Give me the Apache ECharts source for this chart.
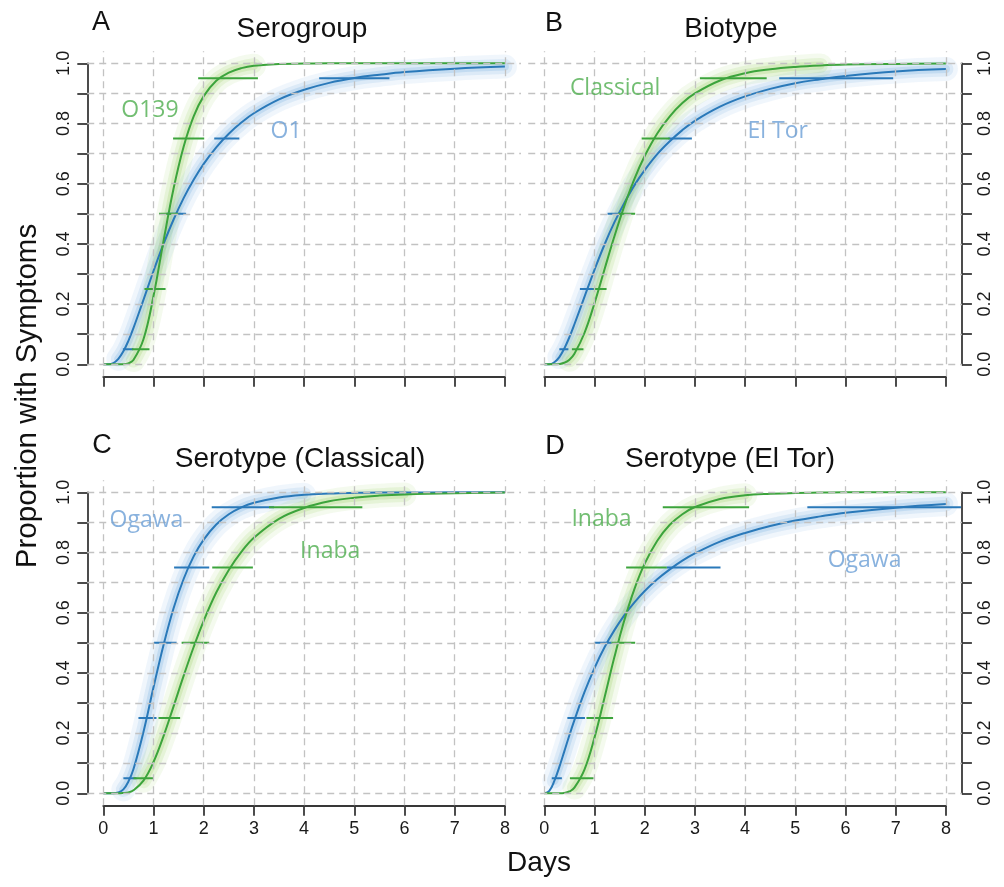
<!DOCTYPE html>
<html>
<head>
<meta charset="utf-8">
<script src="https://cdn.jsdelivr.net/npm/echarts@6/dist/echarts.min.js"></script>
<style>
html, body { margin: 0; padding: 0; background: #fff; }
#main { width: 1004px; height: 887px; }
</style>
</head>
<body>
<div id="main"></div>
<script>
// days sampled along each curve
var days = [0, 0.1, 0.2, 0.3, 0.4, 0.5, 0.6, 0.8, 1.0, 1.2, 1.4, 1.6, 1.8, 2.0, 2.25, 2.5, 2.75, 3.0, 3.5, 4.0, 4.5, 5.0, 5.5, 6.0, 7.0, 8.0];
var dayTicks = [0, 1, 2, 3, 4, 5, 6, 7, 8];
var propTicks = [0, 0.1, 0.2, 0.3, 0.4, 0.5, 0.6, 0.7, 0.8, 0.9, 1.0];
var quantiles = [0.05, 0.25, 0.5, 0.75, 0.95];

// A: serogroup
var serogroupO1   = [0, 0.000, 0.004, 0.018, 0.043, 0.078, 0.120, 0.214, 0.310, 0.400, 0.481, 0.552, 0.613, 0.666, 0.721, 0.766, 0.803, 0.834, 0.880, 0.912, 0.935, 0.951, 0.962, 0.971, 0.982, 0.989];
var serogroupO139 = [0, 0, 0, 0, 0.000, 0.003, 0.014, 0.083, 0.227, 0.410, 0.584, 0.723, 0.824, 0.891, 0.942, 0.969, 0.984, 0.992, 0.998, 0.999, 1, 1, 1, 1, 1, 1];
var serogroupO1Ci   = [[0.39, 0.60], [0.84, 1.00], [1.26, 1.65], [2.21, 2.71], [4.30, 5.70]];
var serogroupO139Ci = [[0.57, 0.92], [0.82, 1.24], [1.11, 1.49], [1.39, 2.01], [1.89, 3.08]];

// B: biotype
var biotypeElTor     = [0, 0.000, 0.007, 0.024, 0.053, 0.090, 0.133, 0.224, 0.314, 0.398, 0.473, 0.538, 0.596, 0.645, 0.698, 0.741, 0.778, 0.809, 0.856, 0.890, 0.915, 0.934, 0.947, 0.958, 0.973, 0.981];
var biotypeClassical = [0, 0, 0.000, 0.001, 0.005, 0.015, 0.035, 0.104, 0.203, 0.316, 0.427, 0.529, 0.618, 0.692, 0.767, 0.824, 0.868, 0.900, 0.943, 0.967, 0.980, 0.988, 0.993, 0.996, 0.998, 0.999];
var biotypeElTorCi     = [[0.30, 0.48], [0.71, 1.04], [1.26, 1.54], [2.47, 2.94], [4.68, 6.95]];
var biotypeClassicalCi = [[0.55, 0.78], [0.98, 1.24], [1.47, 1.81], [1.94, 2.50], [3.10, 4.43]];

// C: serotype within Classical
var classicalOgawa = [0, 0, 0.000, 0.003, 0.013, 0.039, 0.080, 0.204, 0.352, 0.493, 0.615, 0.712, 0.787, 0.843, 0.893, 0.927, 0.950, 0.965, 0.983, 0.992, 0.996, 0.998, 0.999, 0.999, 1, 1];
var classicalInaba = [0, 0, 0, 0.000, 0.001, 0.003, 0.010, 0.042, 0.104, 0.190, 0.289, 0.390, 0.486, 0.573, 0.667, 0.742, 0.802, 0.849, 0.912, 0.948, 0.970, 0.982, 0.989, 0.993, 0.997, 0.999];
var classicalOgawaCi = [[0.40, 0.66], [0.70, 1.06], [1.01, 1.46], [1.41, 2.11], [2.16, 3.40]];
var classicalInabaCi = [[0.60, 1.00], [1.10, 1.53], [1.56, 2.11], [2.17, 2.98], [3.30, 5.16]];

// D: serotype within El Tor
var elTorOgawa = [0, 0.008, 0.041, 0.088, 0.140, 0.193, 0.243, 0.336, 0.416, 0.485, 0.543, 0.593, 0.635, 0.672, 0.711, 0.744, 0.773, 0.797, 0.836, 0.865, 0.888, 0.906, 0.920, 0.932, 0.949, 0.961];
var elTorInaba = [0, 0, 0, 0.000, 0.001, 0.006, 0.019, 0.079, 0.185, 0.318, 0.455, 0.578, 0.681, 0.763, 0.839, 0.892, 0.927, 0.951, 0.978, 0.990, 0.995, 0.998, 0.999, 1, 1, 1];
var elTorOgawaCi = [[0.15, 0.35], [0.46, 0.81], [1.00, 1.34], [2.44, 3.51], [5.24, 8.30]];
var elTorInabaCi = [[0.51, 0.98], [0.84, 1.37], [1.34, 1.81], [1.63, 2.44], [2.36, 4.08]];

var BLUE = { line: '#2a79b9', glow: '105,168,222', text: '#6b9fd6' };
var GREEN = { line: '#3ca43c', glow: '150,205,90', text: '#4fae4f' };

var panels = [
    { letter: 'A', title: 'Serogroup', x0: 103.3, y1: 63.3, side: 'left', xLabels: false,
      groups: [
        { name: 'O1', c: BLUE, cdf: serogroupO1, ci: serogroupO1Ci, at: [3.64, 0.772] },
        { name: 'O139', c: GREEN, cdf: serogroupO139, ci: serogroupO139Ci, at: [0.93, 0.842] }
      ] },
    { letter: 'B', title: 'Biotype', x0: 544.3, y1: 63.3, side: 'right', xLabels: false,
      groups: [
        { name: 'El Tor', c: BLUE, cdf: biotypeElTor, ci: biotypeElTorCi, at: [4.65, 0.772] },
        { name: 'Classical', c: GREEN, cdf: biotypeClassical, ci: biotypeClassicalCi, at: [1.41, 0.918] }
      ] },
    { letter: 'C', title: 'Serotype (Classical)', x0: 103.3, y1: 492.3, side: 'left', xLabels: true,
      groups: [
        { name: 'Ogawa', c: BLUE, cdf: classicalOgawa, ci: classicalOgawaCi, at: [0.86, 0.905] },
        { name: 'Inaba', c: GREEN, cdf: classicalInaba, ci: classicalInabaCi, at: [4.52, 0.805] }
      ] },
    { letter: 'D', title: 'Serotype (El Tor)', x0: 544.3, y1: 492.3, side: 'right', xLabels: true,
      groups: [
        { name: 'Ogawa', c: BLUE, cdf: elTorOgawa, ci: elTorOgawaCi, at: [6.38, 0.772] },
        { name: 'Inaba', c: GREEN, cdf: elTorInaba, ci: elTorInabaCi, at: [1.14, 0.91] }
      ] }
];

var PX_DAY = 50.2, PX_UNIT = 301;
var grids = [], xAxes = [], yAxes = [], series = [], graphics = [];
var axisCol = '#383838';
var tickFont = { fontFamily: 'Liberation Sans', fontSize: 18, color: '#1a1a1a' };

function pts(ys) { return days.map(function (d, i) { return [d, ys[i]]; }); }

panels.forEach(function (p, k) {
    var go = 2 * k, gi = 2 * k + 1;
    // plot region (R style, 4% padding)
    grids.push({ left: p.x0 - 0.32 * PX_DAY, top: p.y1 - 0.04 * PX_UNIT, width: 8.64 * PX_DAY, height: 1.08 * PX_UNIT, outerBoundsMode: 'none' });
    // data region, carries the visible axes
    grids.push({ left: p.x0, top: p.y1, width: 8 * PX_DAY, height: PX_UNIT, outerBoundsMode: 'none' });

    xAxes.push({ type: 'value', gridIndex: go, min: -0.32, max: 8.32, show: false });
    yAxes.push({ type: 'value', gridIndex: go, min: -0.04, max: 1.04, show: false });

    xAxes.push({
        type: 'value', gridIndex: gi, min: 0, max: 8, interval: 1, position: 'bottom', offset: 12.5,
        axisLine: { show: true, onZero: false, lineStyle: { color: axisCol, width: 1.8 } },
        axisTick: { show: true, length: 10, lineStyle: { color: axisCol, width: 1.8 } },
        axisLabel: Object.assign({ show: p.xLabels, margin: 14 }, tickFont),
        splitLine: { show: false }
    });
    yAxes.push({
        type: 'value', gridIndex: gi, min: 0, max: 1, interval: 0.1, position: p.side, offset: 16,
        axisLine: { show: true, onZero: false, lineStyle: { color: axisCol, width: 1.8 } },
        axisTick: { show: true, length: 10, lineStyle: { color: axisCol, width: 1.8 } },
        axisLabel: Object.assign({
            rotate: 90, margin: 14,
            formatter: function (v) { var t = Math.round(v * 10); return t % 2 === 0 ? (t / 10).toFixed(1) : ''; }
        }, tickFont),
        splitLine: { show: false }
    });

    var base = { xAxisIndex: go, yAxisIndex: go, silent: true, animation: false };

    // dashed grid
    series.push(Object.assign({}, base, {
        type: 'line', z: 1, data: [], showSymbol: false,
        markLine: {
            silent: true, symbol: ['none', 'none'], label: { show: false }, animation: false,
            lineStyle: { color: '#c2c2c2', type: [7, 5], width: 1.3 },
            data: dayTicks.map(function (d) { return { xAxis: d }; })
                .concat(propTicks.map(function (v) { return { yAxis: v }; }))
        }
    }));

    // soft uncertainty glow, only where the curve is rising
    p.groups.forEach(function (g) {
        var rising = pts(g.cdf).filter(function (q) { return q[1] > 0.01 && q[1] < 0.995; });
        [[24, 0.10], [15, 0.15], [8, 0.22]].forEach(function (w) {
            series.push(Object.assign({}, base, {
                type: 'line', z: 2, data: rising, smooth: 0.4, showSymbol: false,
                lineStyle: { color: 'rgba(' + g.c.glow + ',' + w[1] + ')', width: w[0], cap: 'round', join: 'round' }
            }));
        });
    });
    // point estimate curves
    p.groups.forEach(function (g) {
        series.push(Object.assign({}, base, {
            type: 'line', z: 3, name: g.name, data: pts(g.cdf), smooth: 0.4, showSymbol: false,
            lineStyle: { color: g.c.line, width: 2 }
        }));
    });
    // quantile intervals
    p.groups.forEach(function (g) {
        g.ci.forEach(function (r, i) {
            series.push(Object.assign({}, base, {
                type: 'line', z: 4, data: [[r[0], quantiles[i]], [r[1], quantiles[i]]], showSymbol: false,
                lineStyle: { color: g.c.line, width: 2 }
            }));
        });
    });
    // group names
    p.groups.forEach(function (g) {
        series.push(Object.assign({}, base, {
            type: 'scatter', z: 5, data: [g.at], symbolSize: 1, itemStyle: { color: 'rgba(0,0,0,0)' },
            label: { show: true, position: 'inside', formatter: g.name, color: g.c.text,
                     fontFamily: 'Open Sans', fontSize: 23 }
        }));
    });
});

function txt(x, y, s, size, rot) {
    return { type: 'text', x: x, y: y, rotation: rot || 0, silent: true,
        style: { text: s, fill: '#111', font: size + 'px "Liberation Sans", Arial, sans-serif',
                 textAlign: 'center', textVerticalAlign: 'middle', align: 'center', verticalAlign: 'middle' } };
}
graphics.push(txt(101, 23, 'A', 27), txt(302, 29, 'Serogroup', 28));
graphics.push(txt(554, 24, 'B', 27), txt(731, 29, 'Biotype', 28));
graphics.push(txt(102, 446, 'C', 27), txt(300, 459, 'Serotype (Classical)', 28));
graphics.push(txt(555, 447, 'D', 27), txt(730, 459, 'Serotype (El Tor)', 28));
graphics.push(txt(539, 863, 'Days', 28));
graphics.push(txt(28, 396, 'Proportion with Symptoms', 29.5, Math.PI / 2));

var chart = echarts.init(document.getElementById('main'), null, { renderer: 'canvas' });
chart.setOption({
    animation: false,
    backgroundColor: '#fff',
    grid: grids,
    xAxis: xAxes,
    yAxis: yAxes,
    series: series,
    graphic: graphics
});
</script>
</body>
</html>
